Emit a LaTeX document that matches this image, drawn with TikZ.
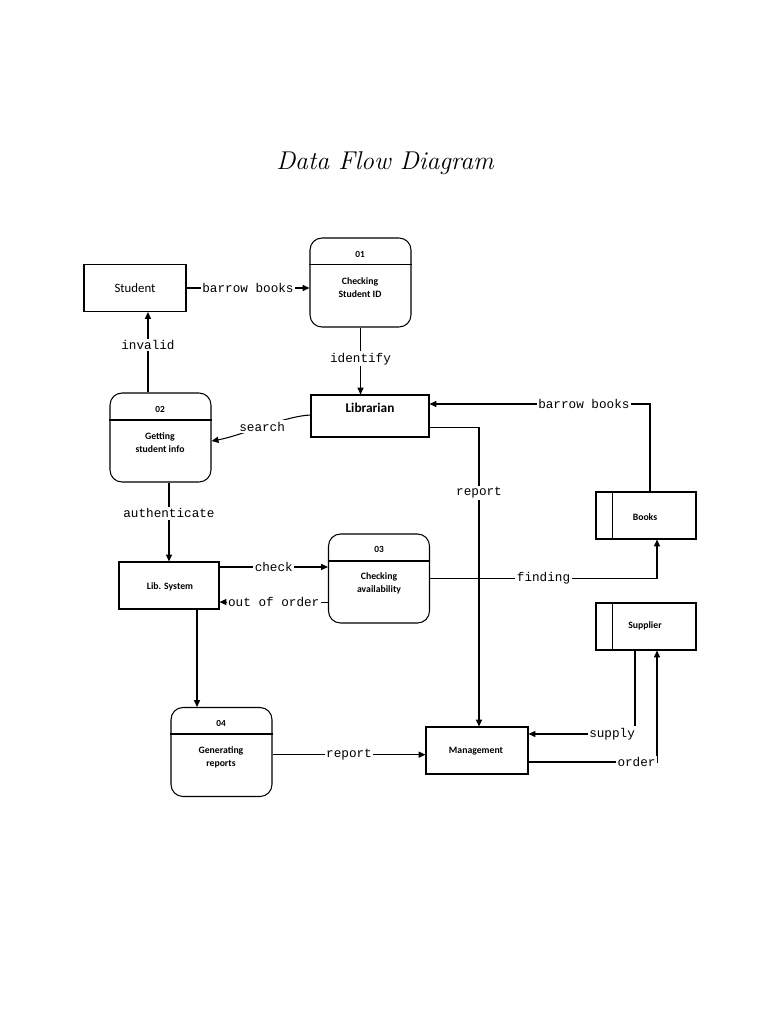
\documentclass[tikz,border=0pt]{standalone}
\usepackage{fontspec}
\usepackage{tikz}
\usetikzlibrary{calc}
\usetikzlibrary{arrows.meta}
\newfontfamily\calibfont{Carlito}
\newfontfamily\courfont{Liberation Mono}
\tikzset{every picture/.style={line width=0.8pt}}
\tikzset{
  entity/.style={draw, rectangle, inner sep=0pt, minimum width=76.5pt, minimum height=35.25pt},
  process/.style={draw, rectangle, rounded corners=9pt, inner sep=0pt, minimum width=75.75pt, minimum height=66.75pt},
  store/.style={draw, rectangle, inner sep=0pt, minimum width=75pt, minimum height=35.25pt},
  flow/.style={-{Triangle[length=5.2pt,width=4.6pt]}},
  flowlabel/.style={fill=white, inner sep=1.2pt, font=\courfont\fontsize{9.5}{11}\selectfont},
  boxtext/.style={inner sep=0pt, align=center, font=\calibfont\bfseries\fontsize{7.3}{9.6}\selectfont},
  idtext/.style={inner sep=0pt, font=\calibfont\bfseries\fontsize{7}{8}\selectfont}
}

\begin{document}
\begin{tikzpicture}[x=0.75pt,y=0.75pt,yscale=-1,xscale=1]
\path (0,0) rectangle (768,1024); %set diagram to the page size

% Text Node
\node (title) at (385,163) {\itshape\fontsize{19.3}{23}\selectfont Data Flow Diagram};

%Shape: Rectangle
\node [entity, font=\calibfont\fontsize{9.6}{11}\selectfont] (student) at (135,288) {Student};
\node [entity, minimum width=88.5pt, minimum height=31.5pt] (librarian) at (370,416) {};
\node [boxtext, font=\calibfont\bfseries\fontsize{10}{12}\selectfont] (librariantext) at (370,408) {Librarian};
\node [entity, minimum width=75pt] (libsys) at (169,585.5) {};
\node [boxtext] (libsystext) at (170,587) {Lib. System};
\node [entity] (management) at (477,750.5) {};
\node [boxtext] (managementtext) at (476,751) {Management};

%Shape: Data Store
\node [store] (books) at (646,515.5) {};
\draw ($(books.north west)+(17,0)$) -- ($(books.south west)+(17,0)$);
\node [boxtext] (bookstext) at (645,517) {Books};
\node [store] (supplier) at (646,626.5) {};
\draw ($(supplier.north west)+(17,0)$) -- ($(supplier.south west)+(17,0)$);
\node [boxtext] (suppliertext) at (645,626) {Supplier};

%Shape: Process
\node [process] (p01) at (360.5,282.5) {};
\draw ($(p01.north west)+(0,27)$) -- ($(p01.north east)+(0,27)$);
\node [idtext] (id01) at (360,254) {01};
\node [boxtext] (t01) at (360,287.5) {Checking\\Student ID};

\node [process] (p02) at (160.5,437.5) {};
\draw ($(p02.north west)+(0,27.5)$) -- ($(p02.north east)+(0,27.5)$);
\node [idtext] (id02) at (160,409) {02};
\node [boxtext] (t02) at (160,443) {Getting\\student info};

\node [process] (p03) at (379,578.5) {};
\draw ($(p03.north west)+(0,27.5)$) -- ($(p03.north east)+(0,27.5)$);
\node [idtext] (id03) at (379,549) {03};
\node [boxtext] (t03) at (379,583) {Checking\\availability};

\node [process] (p04) at (221.5,752) {};
\draw ($(p04.north west)+(0,27)$) -- ($(p04.north east)+(0,27)$);
\node [idtext] (id04) at (221,723) {04};
\node [boxtext] (t04) at (221,757.5) {Generating\\reports};

%Straight Lines
\draw [flow] (student.east) -- node [flowlabel] {barrow books} (student.east -| p01.west);
\draw [flow] (p01.south) -- node [flowlabel, pos=0.47] {identify} (p01.south |- librarian.north);
\draw [flow] ([xshift=-9.4pt]p02.north) -- node [flowlabel, pos=0.59] {invalid} ([xshift=-9.4pt]p02.north |- student.south);
\draw [flow] (p02.south -| libsys.north) -- node [flowlabel, pos=0.39] {authenticate} (libsys.north);
\draw [flow] ([yshift=-13.9pt]libsys.east) -- node [flowlabel] {check} ([yshift=-13.9pt]libsys.east -| p03.west);
\draw [flow] ([yshift=12.4pt]libsys.east -| p03.west) -- node [flowlabel] {out of order} ([yshift=12.4pt]libsys.east);
\draw [flow] ([xshift=21pt]libsys.south) -- ([xshift=21pt]libsys.south |- p04.north);
\draw [flow] ([yshift=2pt]p04.east) -- node [flowlabel] {report} ([yshift=2pt]p04.east -| management.west);

%Curve Lines
\draw [flow] ($(librarian.west)+(0,-1)$) .. controls (285,416) and (240,436) .. node [flowlabel] {search} ($(p02.east)+(0,3.5)$);

%Right Angle
\draw [flow] ([xshift=3pt]books.north) |- node [flowlabel, pos=0.65] {barrow books} ([yshift=-9pt]librarian.east);
\draw [flow] ([yshift=8.3pt]librarian.east) -| node [flowlabel, pos=0.61] {report} ([xshift=1.5pt]management.north);
\draw [flow] (p03.east) -| node [flowlabel, pos=0.25] {finding} ([xshift=8.25pt]books.south);
\draw [flow] ([xshift=-8.25pt]supplier.south) |- node [flowlabel, pos=0.5, anchor=east, xshift=1.5pt] {supply} ([yshift=-12.4pt]management.east);
\draw [flow] ([yshift=8.6pt]management.east) -| node [flowlabel, pos=0.5, anchor=east, xshift=0.5pt] {order} ([xshift=8.25pt]supplier.south);
\end{tikzpicture}
\end{document}
